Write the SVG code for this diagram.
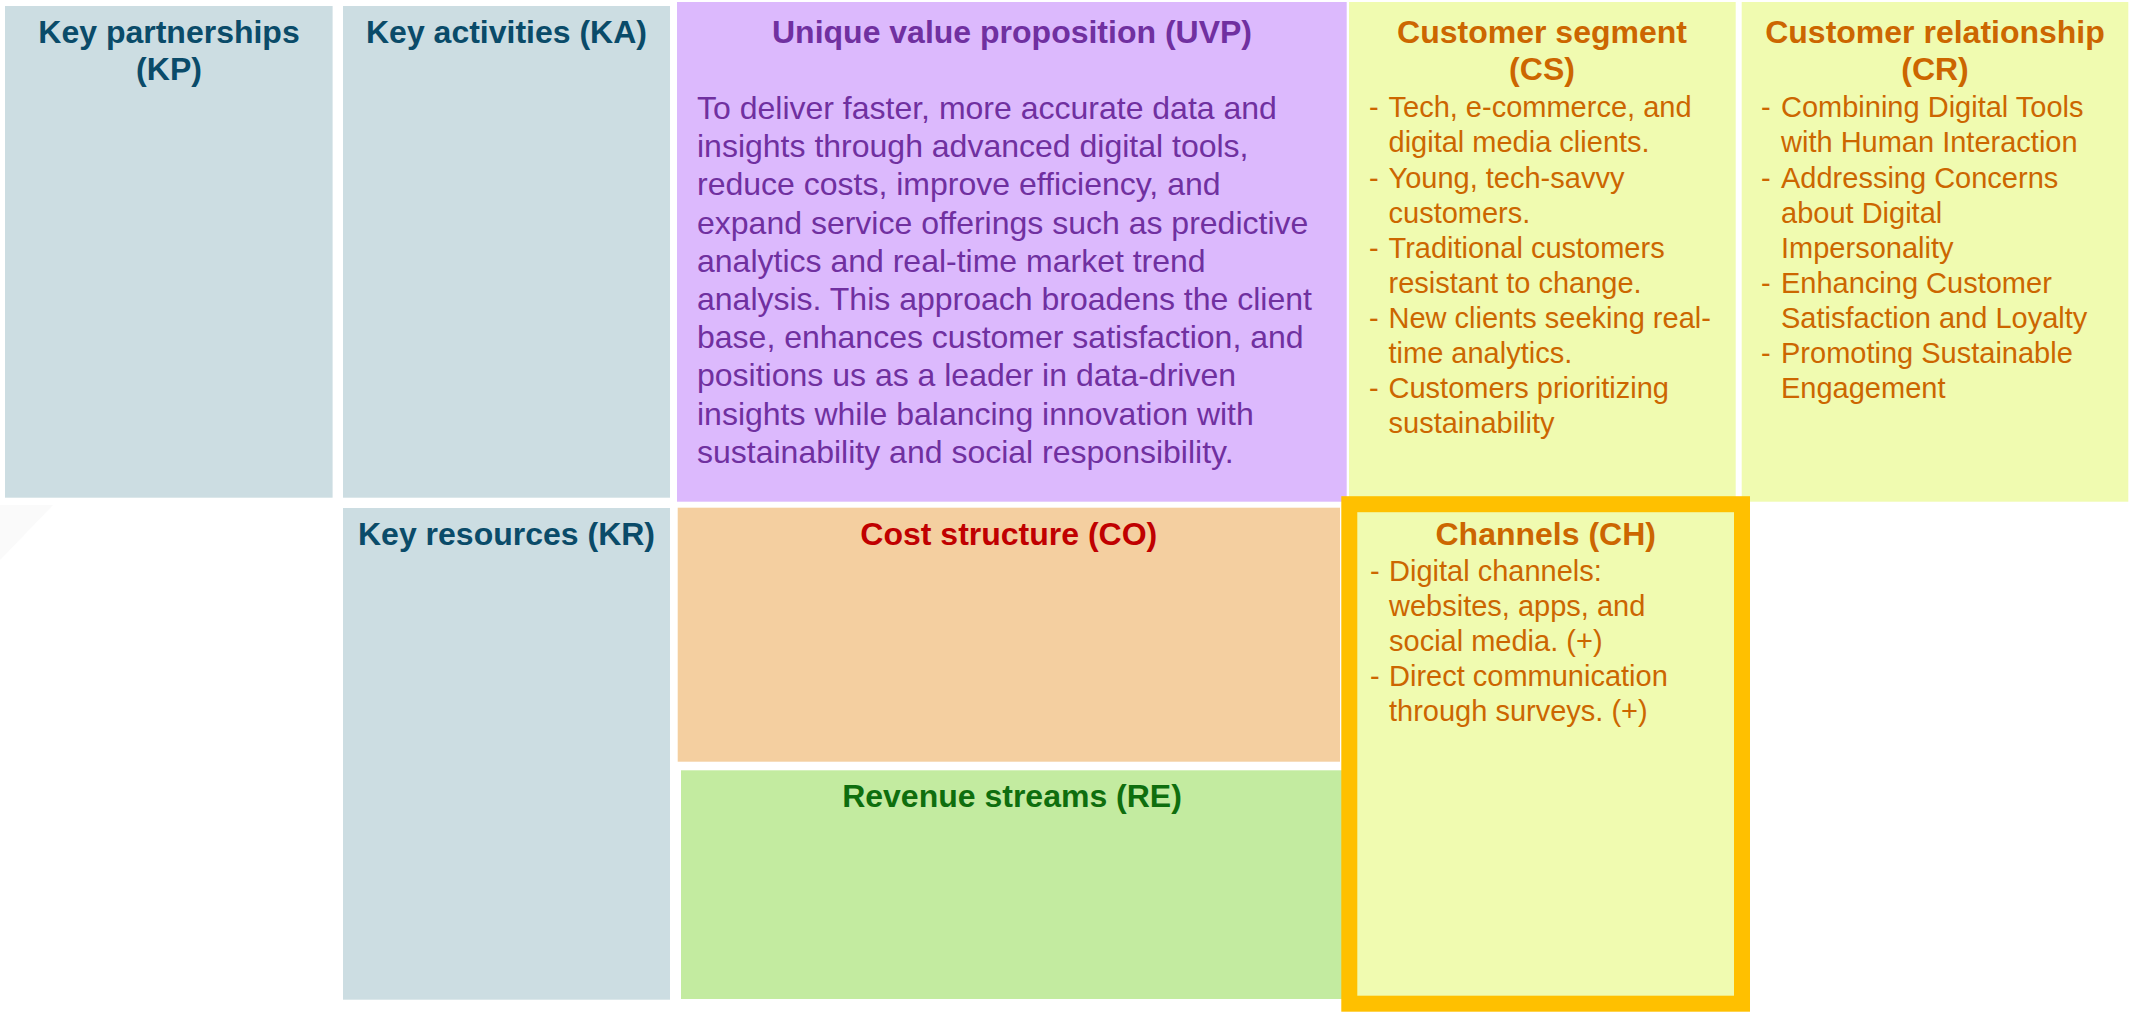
<svg xmlns="http://www.w3.org/2000/svg" width="2134" height="1013" viewBox="0 0 2134 1013">
  <style>
    text { font-family: "Liberation Sans", Arial, sans-serif; }
    .title { font-size: 32px; font-weight: bold; text-anchor: middle; }
    .body { font-size: 29px; }
    .uvp { font-size: 32px; fill: #7030A0; }
    .blue-box { fill: #CCDDE2; }
    .blue-txt { fill: #0A4B69; }
    .yellow-box { fill: #F0FBB0; }
    .orange-txt { fill: #CC6600; }
  </style>

  <rect width="2134" height="1013" fill="#FFFFFF"/>
  <!-- faint corner shading -->
  <polygon points="0,505 53,505 0,560" fill="#FAFAFA"/>

  <!-- Key partnerships -->
  <g id="kp">
    <rect class="blue-box" x="5" y="6" width="327.6" height="491.7"/>
    <text class="title blue-txt" x="169" y="43">Key partnerships</text>
    <text class="title blue-txt" x="169" y="80">(KP)</text>
  </g>

  <!-- Key activities -->
  <g id="ka">
    <rect class="blue-box" x="343" y="6" width="327" height="491.7"/>
    <text class="title blue-txt" x="506.5" y="43">Key activities (KA)</text>
  </g>

  <!-- Unique value proposition -->
  <g id="uvp">
    <rect x="677" y="2" width="669.7" height="499.7" fill="#DCB9FD"/>
    <text class="title" x="1012" y="43" fill="#7030A0">Unique value proposition (UVP)</text>
    <text class="uvp" x="697">
      <tspan x="697" y="119">To deliver faster, more accurate data and</tspan>
      <tspan x="697" y="157.2">insights through advanced digital tools,</tspan>
      <tspan x="697" y="195.4">reduce costs, improve efficiency, and</tspan>
      <tspan x="697" y="233.6">expand service offerings such as predictive</tspan>
      <tspan x="697" y="271.8">analytics and real-time market trend</tspan>
      <tspan x="697" y="310">analysis. This approach broadens the client</tspan>
      <tspan x="697" y="348.2">base, enhances customer satisfaction, and</tspan>
      <tspan x="697" y="386.4">positions us as a leader in data-driven</tspan>
      <tspan x="697" y="424.6">insights while balancing innovation with</tspan>
      <tspan x="697" y="462.8">sustainability and social responsibility.</tspan>
    </text>
  </g>

  <!-- Customer segment -->
  <g id="cs">
    <rect class="yellow-box" x="1349" y="2" width="386.7" height="499.7"/>
    <text class="title orange-txt" x="1542" y="43">Customer segment</text>
    <text class="title orange-txt" x="1542" y="80">(CS)</text>
    <g class="body orange-txt">
      <text x="1369" y="117.3">-</text>
      <text x="1369" y="187.5">-</text>
      <text x="1369" y="257.7">-</text>
      <text x="1369" y="327.9">-</text>
      <text x="1369" y="398.1">-</text>
      <text x="1388.5" y="117.3">Tech, e-commerce, and</text>
      <text x="1388.5" y="152.4">digital media clients.</text>
      <text x="1388.5" y="187.5">Young, tech-savvy</text>
      <text x="1388.5" y="222.6">customers.</text>
      <text x="1388.5" y="257.7">Traditional customers</text>
      <text x="1388.5" y="292.8">resistant to change.</text>
      <text x="1388.5" y="327.9">New clients seeking real-</text>
      <text x="1388.5" y="363">time analytics.</text>
      <text x="1388.5" y="398.1">Customers prioritizing</text>
      <text x="1388.5" y="433.2">sustainability</text>
    </g>
  </g>

  <!-- Customer relationship -->
  <g id="cr">
    <rect class="yellow-box" x="1741.7" y="2" width="386.6" height="499.7"/>
    <text class="title orange-txt" x="1935" y="43">Customer relationship</text>
    <text class="title orange-txt" x="1935" y="80">(CR)</text>
    <g class="body orange-txt">
      <text x="1761" y="117.3">-</text>
      <text x="1761" y="187.5">-</text>
      <text x="1761" y="292.8">-</text>
      <text x="1761" y="363">-</text>
      <text x="1781" y="117.3">Combining Digital Tools</text>
      <text x="1781" y="152.4">with Human Interaction</text>
      <text x="1781" y="187.5">Addressing Concerns</text>
      <text x="1781" y="222.6">about Digital</text>
      <text x="1781" y="257.7">Impersonality</text>
      <text x="1781" y="292.8">Enhancing Customer</text>
      <text x="1781" y="327.9">Satisfaction and Loyalty</text>
      <text x="1781" y="363">Promoting Sustainable</text>
      <text x="1781" y="398.1">Engagement</text>
    </g>
  </g>

  <!-- Key resources -->
  <g id="kr">
    <rect class="blue-box" x="343" y="508" width="327" height="491.7"/>
    <text class="title blue-txt" x="506.5" y="545">Key resources (KR)</text>
  </g>

  <!-- Cost structure -->
  <g id="co">
    <rect x="677.7" y="507.7" width="662.3" height="254" fill="#F4CFA0"/>
    <text class="title" x="1008.8" y="545" fill="#C00000">Cost structure (CO)</text>
  </g>

  <!-- Revenue streams -->
  <g id="re">
    <rect x="681" y="770.3" width="662" height="228.7" fill="#C3EBA0"/>
    <text class="title" x="1012" y="806.5" fill="#0E6E0E">Revenue streams (RE)</text>
  </g>

  <!-- Channels (highlighted) -->
  <g id="ch">
    <rect class="yellow-box" x="1349.3" y="504.2" width="392.7" height="499.5" stroke="#FFC000" stroke-width="16"/>
    <text class="title orange-txt" x="1545.7" y="545">Channels (CH)</text>
    <g class="body orange-txt">
      <text x="1370" y="581">-</text>
      <text x="1370" y="686">-</text>
      <text x="1389" y="581">Digital channels:</text>
      <text x="1389" y="616">websites, apps, and</text>
      <text x="1389" y="651">social media. (+)</text>
      <text x="1389" y="686">Direct communication</text>
      <text x="1389" y="721">through surveys. (+)</text>
    </g>
  </g>

  <g id="connectors"/>
</svg>
